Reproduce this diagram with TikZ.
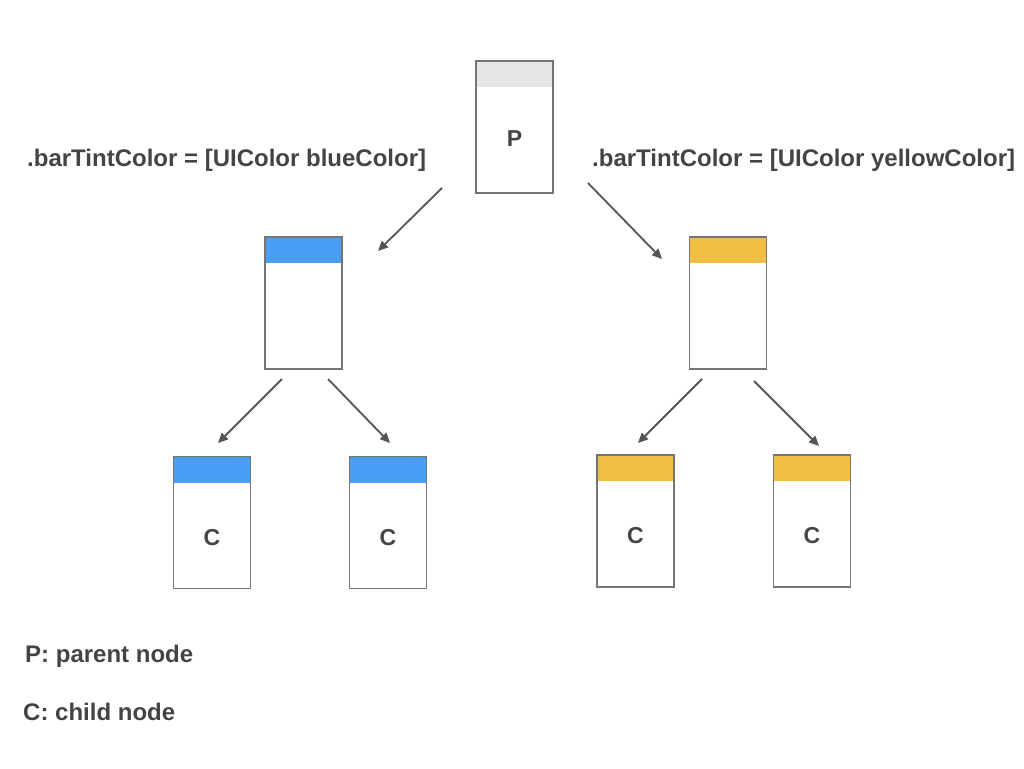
\documentclass[tikz,border=0pt]{standalone}
\usepackage{fontspec}
\setmainfont{Liberation Sans}
\usetikzlibrary{arrows.meta}
\definecolor{hdrblue}{HTML}{4A9FF5}
\definecolor{hdryellow}{HTML}{EFBE42}
\definecolor{hdrgray}{HTML}{E5E6E6}
\definecolor{boxline}{HTML}{757575}
\definecolor{arrowc}{HTML}{555555}
\definecolor{txt}{HTML}{444444}
\tikzset{
  screen/.style={draw=boxline, line width=1.5pt, fill=white, minimum width=77pt, minimum height=132pt, inner sep=0pt, outer sep=0pt},
  conn/.style={draw=arrowc, line width=1.8pt, -{Triangle[length=10pt,width=9pt]}},
  lbl/.style={font=\bfseries\fontsize{24}{28}\selectfont, text=txt, inner sep=0pt},
  boxlbl/.style={font=\bfseries\fontsize{23}{27}\selectfont, text=txt, inner sep=0pt}
}
\newcommand{\screenbox}[6]{% name, cx, cy, header color, label, label shift
  \node[screen] (#1) at (#2,#3) {};
  \fill[#4] ([xshift=0.75pt,yshift=-0.75pt]#1.north west) rectangle ([xshift=-0.75pt,yshift=-26pt]#1.north east);
  \draw[boxline, line width=1.5pt] (#1.south west) rectangle (#1.north east);
  \node[boxlbl] (#1-t) at ([yshift=-#6pt]#1.center) {#5};
}
\begin{document}
\begin{tikzpicture}[x=1pt,y=-1pt]
\useasboundingbox (0,0) rectangle (1024,768);
\screenbox{P}{514.5}{127}{hdrgray}{P}{12}
\screenbox{B}{303.5}{303}{hdrblue}{}{0}
\screenbox{Y}{728}{303}{hdryellow}{}{0}
\screenbox{C1}{212}{522.5}{hdrblue}{C}{15.5}
\screenbox{C2}{388}{522.5}{hdrblue}{C}{15.5}
\screenbox{C3}{635.5}{521}{hdryellow}{C}{15}
\screenbox{C4}{812}{521}{hdryellow}{C}{15}

\coordinate (a1s) at (442,188); \coordinate (a1e) at (378,251);
\coordinate (a2s) at (588,183); \coordinate (a2e) at (662,259);
\coordinate (a3s) at (282,379); \coordinate (a3e) at (218,443);
\coordinate (a4s) at (328,379); \coordinate (a4e) at (390,443);
\coordinate (a5s) at (702,379); \coordinate (a5e) at (638,443);
\coordinate (a6s) at (754,381); \coordinate (a6e) at (819,446);
\draw[conn] (a1s) -- (a1e);
\draw[conn] (a2s) -- (a2e);
\draw[conn] (a3s) -- (a3e);
\draw[conn] (a4s) -- (a4e);
\draw[conn] (a5s) -- (a5e);
\draw[conn] (a6s) -- (a6e);

\node[lbl, anchor=base west] (lb) at (27,166) {.barTintColor = [UIColor blueColor]};
\node[lbl, anchor=base west] (ly) at (592,166) {.barTintColor = [UIColor yellowColor]};
\node[lbl, anchor=base west] (lp) at (25,662) {P: parent node};
\node[lbl, anchor=base west] (lc) at (23,720) {C: child node};
\end{tikzpicture}
\end{document}
